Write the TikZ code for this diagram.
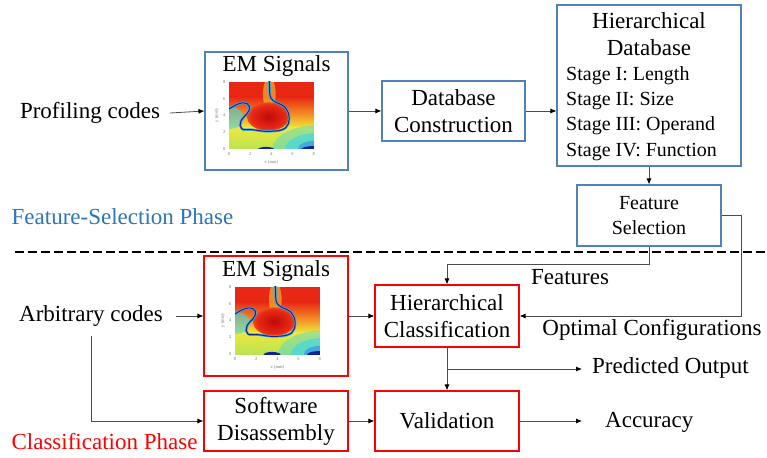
\documentclass[tikz,border=0pt]{standalone}
\usepackage{fontspec}
\setmainfont{Liberation Serif}
\usetikzlibrary{arrows.meta,calc}
\definecolor{boxblue}{RGB}{79,129,189}
\definecolor{txtblue}{RGB}{46,117,182}
\definecolor{boxred}{RGB}{255,0,0}
\definecolor{hmdred}{RGB}{190,10,10}
\definecolor{hmred}{RGB}{232,40,20}
\definecolor{hmorange}{RGB}{245,140,35}
\definecolor{hmyellow}{RGB}{238,232,60}
\definecolor{hmgreen}{RGB}{185,228,85}
\definecolor{hmcyan}{RGB}{70,215,225}
\definecolor{hmlblue}{RGB}{60,150,235}
\definecolor{hmblue}{RGB}{15,35,150}
\pgfdeclareradialshading{blobshade}{\pgfpoint{0bp}{0bp}}{color(0bp)=(hmdred); color(20bp)=(hmred); color(35bp)=(hmorange); color(44bp)=(hmyellow); color(50bp)=(hmyellow)}
\tikzset{
  bluebox/.style={draw=boxblue, line width=1.1pt, inner sep=0pt, align=center},
  redbox/.style={draw=boxred, line width=1.1pt, inner sep=0pt, align=center},
  lbl/.style={inner sep=0pt, align=center},
  arr/.style={draw=black!70, line width=0.8pt, -{Latex[length=6pt,width=5pt,color=black]}},
  tickl/.style={font=\fontsize{4.5}{5}\selectfont, text=black!55, inner sep=0pt},
  hmcurve/.style={
    insert path={(3.8,8.2) -- (3.85,6.5) .. controls (3.9,5.8) and (4.3,5.6) .. (4.9,5.3)
          .. controls (5.6,4.9) and (5.8,3.9) .. (5.6,3.0)
          .. controls (5.4,2.2) and (4.6,2.1) .. (3.6,2.1)
          .. controls (2.8,2.1) and (2.3,2.4) .. (1.6,2.3)
          .. controls (0.9,2.2) and (0.9,3.2) .. (1.4,3.8)
          .. controls (1.9,4.4) and (2.2,5.0) .. (1.7,5.4)
          .. controls (1.3,5.7) and (0.6,5.3) .. (-0.2,4.6)}},
  heatmap/.pic={
    \begin{scope}[x=10.6pt,y=8.4pt]
      \begin{scope}
        \clip (0,0) rectangle (8,8);
        \fill[hmred] (0,6.2) rectangle (8,8.01);
        \shade[top color=hmred, bottom color=hmorange] (0,4.2) rectangle (8,6.21);
        \shade[top color=hmorange, bottom color=hmyellow] (0,2.5) rectangle (8,4.21);
        \shade[top color=hmyellow, bottom color=hmgreen] (0,-0.01) rectangle (8,2.51);
        \fill[hmyellow, opacity=0.5] (3.8,6.5) ellipse (0.6 and 2);
        \fill[hmcyan, opacity=0.45] (8.3,0) ellipse (4.2 and 2.8);
        \fill[hmcyan, opacity=0.7] (8.3,0) ellipse (3 and 1.9);
        \fill[hmlblue, opacity=0.7] (8.2,0) ellipse (1.7 and 1);
        \fill[hmcyan, opacity=0.6] (0.2,3.7) ellipse (1.2 and 1.3);
        \fill[hmyellow] (3.7,3.8) ellipse (2.0 and 1.6);
        \shade[shading=blobshade] (3.7,3.85) ellipse (2.0 and 1.7);
        \draw[hmlblue!70!hmcyan, line width=2.4pt, hmcurve];
        \draw[hmblue, line width=1.0pt, hmcurve];
        \fill[hmblue] (3.5,-0.1) ellipse (0.8 and 0.35);
        \fill[hmblue] (7.9,-0.1) ellipse (1.1 and 0.45);
      \end{scope}
      \foreach \v in {0,2,4,6,8} {
        \node[tickl] (xt\v) at (\v,-0.6) {\v};
        \node[tickl] (yt\v) at (-0.45,\v) {\v};
      }
      \node[tickl] (xl) at (4,-1.55) {x (mm)};
      \node[tickl, rotate=90] (yl) at (-1.15,4) {y (mm)};
    \end{scope}
  }
}
\begin{document}
\begin{tikzpicture}[x=1pt,y=-1pt,font=\fontsize{23}{27}\selectfont]
\useasboundingbox (0,0) rectangle (767,457);

% ---------- Feature-selection phase ----------
\node[lbl] (prof) at (90,113) {Profiling codes};
\node[bluebox, minimum width=143pt, minimum height=118pt] (em1) at (276.5,111) {};
\node[lbl] (em1t) at (276.5,66) {EM Signals};
\pic (hmA) at (229,149) {heatmap};
\node[bluebox, minimum width=143pt, minimum height=60pt] (dbc) at (453.5,111) {Database\\Construction};
\node[bluebox, minimum width=184pt, minimum height=161pt] (hdb) at (649,85.5) {};
\node[lbl] (hdbt) at (649,34) {Hierarchical\\Database};
\node[lbl, anchor=west, align=left, font=\fontsize{20}{25.2}\selectfont] (stages) at (566,113.5)
  {Stage I: Length\\Stage II: Size\\Stage III: Operand\\Stage IV: Function};
\node[bluebox, minimum width=144pt, minimum height=61pt, font=\fontsize{20}{25}\selectfont] (fs) at (649,215.5) {Feature\\Selection};
\node[lbl, text=txtblue] (fsp) at (122.5,217) {Feature-Selection Phase};

% ---------- dashed separator ----------
\coordinate (dl) at (15,252);
\coordinate (dr) at (767,252);
\draw[line width=2.2pt, dash pattern=on 9pt off 4pt] (dl) -- (dr);

% ---------- Classification phase ----------
\node[lbl] (arb) at (91,316) {Arbitrary codes};
\node[redbox, minimum width=144pt, minimum height=120pt] (em2) at (276,316) {};
\node[lbl] (em2t) at (276,271) {EM Signals};
\pic (hmB) at (235,354) {heatmap};
\node[redbox, minimum width=144pt, minimum height=62pt] (hc) at (447,316) {Hierarchical\\Classification};
\node[redbox, minimum width=144pt, minimum height=60pt] (sd) at (276,421) {Software\\Disassembly};
\node[redbox, minimum width=144pt, minimum height=60pt] (val) at (447,421) {Validation};
\node[lbl] (feat) at (570,277) {Features};
\node[lbl] (optc) at (652,330) {Optimal Configurations};
\node[lbl, anchor=west] (pred) at (592,368) {Predicted Output};
\node[lbl, anchor=west] (acc) at (605,422) {Accuracy};
\node[lbl, text=boxred] (clp) at (104.5,442) {Classification Phase};

% ---------- connectors ----------
\draw[arr] ([xshift=10pt]prof.east) -- (em1.west);
\draw[arr] (em1.east) -- (dbc.west);
\draw[arr] (dbc.east) -- (dbc.east -| hdb.west);
\draw[arr] (hdb.south) -- (fs.north);
\draw[arr] (fs.south) |- ($(hc.north)+(0,-20)$) -- (hc.north);
\draw[arr] (fs.east) -- ++(20,0) |- (hc.east);
\draw[arr] ([xshift=13pt]arb.east |- em2.west) -- (em2.west);
\draw[arr] ([yshift=-9pt]arb.south) |- (sd.west);
\draw[arr] (em2.east) -- (hc.west);
\draw[arr] (sd.east) -- (val.west);
\draw[arr] (hc.south) -- (val.north);
\coordinate (br) at ($(hc.south)!0.5!(val.north)$);
\draw[arr] (br) -- ($(br -| pred.west)+(-10,0)$);
\draw[arr] (val.east) -- ($(val.east -| acc.west)+(-23,0)$);
\end{tikzpicture}
\end{document}
